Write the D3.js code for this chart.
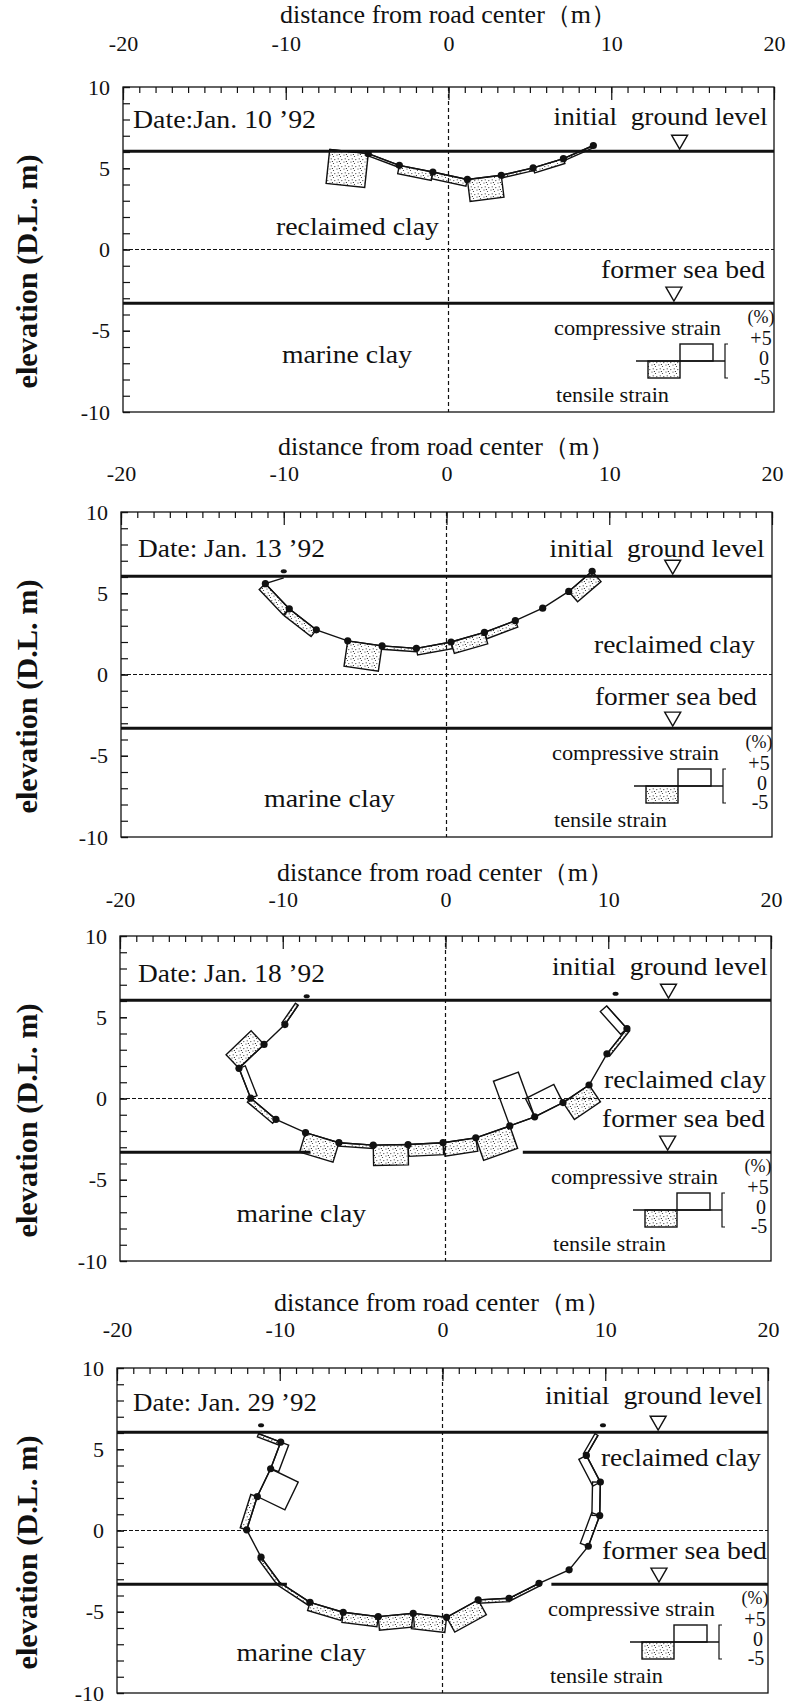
<!DOCTYPE html>
<html>
<head>
<meta charset="utf-8">
<script src="https://cdn.jsdelivr.net/npm/d3@7/dist/d3.min.js"></script>
<style>
body { margin: 0; background: #fff; }
svg { display: block; font-family: "Liberation Serif", "DejaVu Serif", serif; }
text { fill: #111; white-space: pre; }
</style>
</head>
<body>
<div class="container"></div>
<script>
const WIDTH = 789;
const HEIGHT = 1706;
const PW = 651;
const PH = 325;
const TOPS = [87, 512, 936, 1368];
const LEFTS = [123, 121, 120, 117];
const TITLE_GAP = [64, 57, 55, 57];
const TICK_GAP = [36, 31, 29, 31];

// axis ticks
const xTicks = [-20, -10, 0, 10, 20];
const yTicks = [10, 5, 0, -5, -10];

// levels (D.L. m)
const GROUND = 6.05;
const SEABED = -3.3;

const dates = ["Date:Jan. 10 \u201992", "Date: Jan. 13 \u201992", "Date: Jan. 18 \u201992", "Date: Jan. 29 \u201992"];

// Jan 10
const dist1 = [-7.3, -4.93, -3.02, -0.96, 1.16, 3.24, 5.2, 7.06, 8.9];
const elev1 = [6.15, 5.9, 5.18, 4.77, 4.31, 4.57, 5.02, 5.59, 6.4];
const strain1 = [-10, -0.6, -2.5, -2, -6.5, -0.8, -1.5, -0.6];
const bare1 = [0];
const marks1 = [];

// Jan 13
const dist2 = [-10.0, -11.13, -9.66, -8.0, -6.07, -3.96, -1.85, 0.28, 2.33, 4.23, 5.91, 7.51, 8.95];
const elev2 = [5.95, 5.59, 4.04, 2.75, 2.07, 1.76, 1.61, 2.0, 2.59, 3.31, 4.08, 5.11, 6.35];
const strain2 = [0, -2.5, -2.5, 0, -7.5, -1, -2, -3.5, -2, 0, 0, -4];
const bare2 = [0];
const marks2 = [[-10, 6.35]];

// Jan 18
const dist3 = [-9.05, -9.87, -11.15, -12.69, -11.97, -10.42, -8.6, -6.55, -4.44, -2.3, -0.15, 1.86, 3.95, 5.48, 7.22, 8.82, 9.92, 11.15, 9.9];
const elev3 = [5.74, 4.55, 3.33, 1.86, 0.02, -1.28, -2.1, -2.72, -2.87, -2.83, -2.72, -2.42, -1.69, -1.13, -0.25, 0.83, 2.75, 4.3, 5.7];
const strain3 = [-1, 0, -5.5, 2, -1.5, 0, -6, -1, -6, -3.5, -4, -7, 14, 6, -6, 0, -1, 2.5];
const bare3 = [0, 18];
const marks3 = [[-8.53, 6.3], [10.45, 6.45]];

// Jan 29
const dist4 = [-11.3, -9.94, -10.56, -11.38, -12.03, -11.15, -10.0, -8.14, -6.1, -3.95, -1.8, 0.25, 2.19, 4.09, 5.93, 7.78, 8.96, 9.66, 9.7, 8.84, 9.55];
const elev4 = [5.96, 5.44, 3.8, 2.09, 0.04, -1.64, -3.2, -4.42, -5.03, -5.3, -5.1, -5.34, -4.27, -4.17, -3.25, -2.42, -0.97, 0.92, 2.98, 4.62, 5.85];
const strain4 = [-1, 2.5, 9, -2, 0, -1, -1, -2.5, -3, -4, -4.5, -5, -1, -0.8, 0, 0, 2.5, 2.3, 2.5, 1];
const bare4 = [0, 6, 20];
const marks4 = [[-11.15, 6.47], [9.86, 6.47]];

// where the sea bed line is broken by the pipe
const seaGaps = [null, null, [-8.3, 4.75], [-9.56, 6.69]];
// level markers (x of the two triangles)
const levelMarkX = [[14.2, 13.85], [13.9, 13.9], [13.7, 13.65], [13.25, 13.3]];

const DIST = [dist1, dist2, dist3, dist4];
const ELEV = [elev1, elev2, elev3, elev4];
const STRAIN = [strain1, strain2, strain3, strain4];
const BARE = [bare1, bare2, bare3, bare4];
const MARKS = [marks1, marks2, marks3, marks4];

// label placement: [dx from left, dy from top, width]
const LABELS = [
	{date: [10, 41, 183], initial: [430.6, 38, 214], reclaimed: [153, 148, 163], former: [478, 191, 164], marine: [159, 276, 130]},
	{date: [17, 45, 187], initial: [428.6, 44.7, 215], reclaimed: [473, 141, 161], former: [474, 193, 162], marine: [143, 294.7, 131]},
	{date: [18, 45.5, 187], initial: [432, 39, 215.5], reclaimed: [484, 152, 162], former: [482, 190.7, 163], marine: [116.5, 285.7, 129.5]},
	{date: [16, 43, 184], initial: [428, 36, 217.5], reclaimed: [484, 98, 160], former: [485, 191, 165], marine: [119.5, 293, 129.5]}
];

const strainScale = d3.scaleLinear().domain([0, 5]).range([0, 17]);

var addText = function(g, str, x, y, size, width){
	var t = g.append("text")
		.attr("x", x)
		.attr("y", y)
		.attr("font-size", size)
		.text(str);
	if (width) t.attr("textLength", width).attr("lengthAdjust", "spacingAndGlyphs");
	return t;
};

var strainPath = function(d){
	var dx = d.p2[0] - d.p1[0], dy = d.p2[1] - d.p1[1];
	var len = Math.hypot(dx, dy);
	var ux = dx / len, uy = dy / len;
	var t = strainScale(Math.abs(d.s));
	// tensile on the outer side, compressive on the inner side
	var side = d.s < 0 ? 1 : -1;
	var nx = -uy * side * t, ny = ux * side * t;
	return "M" + d.p1[0] + "," + d.p1[1]
		+ "L" + d.p2[0] + "," + d.p2[1]
		+ "L" + (d.p2[0] + nx) + "," + (d.p2[1] + ny)
		+ "L" + (d.p1[0] + nx) + "," + (d.p1[1] + ny) + "Z";
};

var triangle = function(g, cx, yLine){
	g.append("path")
		.attr("d", "M" + (cx - 8) + "," + (yLine - 16) + "L" + (cx + 8) + "," + (yLine - 16) + "L" + cx + "," + (yLine - 2) + "Z")
		.attr("fill", "#fff")
		.attr("stroke", "#111")
		.attr("stroke-width", 1.4);
};

var fmt = function(d){ return d3.format("d")(d).replace("\u2212", "-"); };

var drawPanel = function(svg, i){
	var L = LEFTS[i], T = TOPS[i], R = L + PW, B = T + PH;
	var x = d3.scaleLinear().domain([-20, 20]).range([L, R]);
	var y = d3.scaleLinear().domain([-10, 10]).range([B, T]);
	var g = svg.append("g");

	// title
	addText(g, "distance from road center\uFF08m\uFF09", (L + R) / 2, T - TITLE_GAP[i], 25, 337)
		.attr("text-anchor", "middle");

	// y title
	g.append("text")
		.attr("transform", "translate(37," + (T + PH / 2 + 22) + ") rotate(-90)")
		.attr("text-anchor", "middle")
		.attr("font-size", 29)
		.attr("font-weight", "bold")
		.attr("textLength", 234)
		.attr("lengthAdjust", "spacingAndGlyphs")
		.text("elevation (D.L. m)");

	// reference lines
	g.append("line")
		.attr("x1", x(0)).attr("x2", x(0)).attr("y1", T).attr("y2", B)
		.attr("stroke", "#111").attr("stroke-width", 1.2).attr("stroke-dasharray", "4,3");
	g.append("line")
		.attr("x1", L).attr("x2", R).attr("y1", y(0)).attr("y2", y(0))
		.attr("stroke", "#111").attr("stroke-width", 1.2).attr("stroke-dasharray", "4,2");
	g.append("line")
		.attr("x1", L).attr("x2", R).attr("y1", y(GROUND)).attr("y2", y(GROUND))
		.attr("stroke", "#111").attr("stroke-width", 3);
	var gap = seaGaps[i];
	var seaSegs = gap ? [[-20, gap[0]], [gap[1], 20]] : [[-20, 20]];
	g.selectAll(".sea").data(seaSegs).join("line")
		.attr("x1", d => x(d[0])).attr("x2", d => x(d[1]))
		.attr("y1", y(SEABED)).attr("y2", y(SEABED))
		.attr("stroke", "#111").attr("stroke-width", 3);

	// frame
	g.append("rect")
		.attr("x", L).attr("y", T).attr("width", PW).attr("height", PH)
		.attr("fill", "none").attr("stroke", "#111").attr("stroke-width", 1.3);

	// axes
	var minorX = d3.axisTop(x).tickValues(d3.range(-20, 21, 1)).tickSize(-6).tickFormat("");
	var majorX = d3.axisTop(x).tickValues(xTicks).tickSize(-13).tickPadding(TICK_GAP[i]).tickFormat(fmt);
	var minorY = d3.axisLeft(y).tickValues(d3.range(-10, 11, 1)).tickSize(-7).tickFormat("");
	var majorY = d3.axisLeft(y).tickValues(yTicks).tickSize(-7).tickPadding(13).tickFormat(fmt);
	[[minorX, "translate(0," + T + ")"], [majorX, "translate(0," + T + ")"],
	 [minorY, "translate(" + L + ",0)"], [majorY, "translate(" + L + ",0)"]].forEach(function(a){
		var ag = g.append("g").attr("transform", a[1]).call(a[0]);
		ag.attr("font-family", null).attr("font-size", 22);
		ag.select(".domain").remove();
		ag.selectAll("line").attr("stroke", "#111").attr("stroke-width", 1.2);
		ag.selectAll("text").attr("fill", "#111");
	});

	// labels
	var lb = LABELS[i];
	addText(g, dates[i], L + lb.date[0], T + lb.date[1], 26, lb.date[2]);
	addText(g, "initial  ground level", L + lb.initial[0], T + lb.initial[1], 26, lb.initial[2]);
	addText(g, "reclaimed clay", L + lb.reclaimed[0], T + lb.reclaimed[1], 26, lb.reclaimed[2]);
	addText(g, "former sea bed", L + lb.former[0], T + lb.former[1], 26, lb.former[2]);
	addText(g, "marine clay", L + lb.marine[0], T + lb.marine[1], 26, lb.marine[2]);
	triangle(g, x(levelMarkX[i][0]), y(GROUND));
	triangle(g, x(levelMarkX[i][1]), y(SEABED));

	// strain legend
	var zy = B - 51;
	g.append("line").attr("x1", R - 138).attr("x2", R - 49).attr("y1", zy).attr("y2", zy)
		.attr("stroke", "#111").attr("stroke-width", 1.3);
	g.append("rect").attr("x", R - 126).attr("y", zy).attr("width", 32).attr("height", strainScale(5))
		.attr("fill", "url(#stipple)").attr("stroke", "#111").attr("stroke-width", 1.4);
	g.append("rect").attr("x", R - 94).attr("y", zy - strainScale(5)).attr("width", 33).attr("height", strainScale(5))
		.attr("fill", "none").attr("stroke", "#111").attr("stroke-width", 1.4);
	g.append("path")
		.attr("d", "M" + (R - 46) + "," + (zy - strainScale(5)) + "H" + (R - 49) + "V" + (zy + strainScale(5)) + "H" + (R - 46))
		.attr("fill", "none").attr("stroke", "#111").attr("stroke-width", 1.2);
	addText(g, "compressive strain", R - 220, B - 77, 21, 167);
	addText(g, "tensile strain", R - 218, B - 10, 21, 113);
	addText(g, "(%)", R - 13, B - 89, 18).attr("text-anchor", "middle");
	addText(g, "+5", R - 13, B - 67, 20).attr("text-anchor", "middle");
	addText(g, "0", R - 10, B - 47, 20).attr("text-anchor", "middle");
	addText(g, "-5", R - 12, B - 28, 20).attr("text-anchor", "middle");

	// pipe: strain boxes, line, points
	var pts = DIST[i].map((d, k) => [x(d), y(ELEV[i][k])]);
	var segs = d3.pairs(pts).map((p, k) => ({p1: p[0], p2: p[1], s: STRAIN[i][k]}));
	g.selectAll(".strain").data(segs.filter(d => d.s !== 0)).join("path")
		.attr("d", strainPath)
		.attr("fill", d => d.s < 0 ? "url(#stipple)" : "none")
		.attr("stroke", "#111")
		.attr("stroke-width", 1.4)
		.attr("stroke-linejoin", "miter");
	g.append("path")
		.attr("d", d3.line()(pts))
		.attr("fill", "none")
		.attr("stroke", "#111")
		.attr("stroke-width", 1.4);
	g.selectAll(".pt").data(pts.filter((p, k) => BARE[i].indexOf(k) < 0)).join("circle")
		.attr("cx", d => d[0]).attr("cy", d => d[1]).attr("r", 3.6)
		.attr("fill", "#111");
	g.selectAll(".mark").data(MARKS[i]).join("ellipse")
		.attr("cx", d => x(d[0])).attr("cy", d => y(d[1]))
		.attr("rx", 3).attr("ry", 2)
		.attr("fill", "#111");
};

var load = function(){
	var svg = d3.select(".container").append("svg")
		.attr("width", WIDTH)
		.attr("height", HEIGHT);
	svg.append("rect").attr("width", WIDTH).attr("height", HEIGHT).attr("fill", "#fff");

	var pat = svg.append("defs").append("pattern")
		.attr("id", "stipple")
		.attr("patternUnits", "userSpaceOnUse")
		.attr("width", 7).attr("height", 7);
	[[1, 1], [4.5, 2.5], [2.2, 4.8], [5.8, 5.6], [3.4, 0.4]].forEach(function(p){
		pat.append("circle").attr("cx", p[0]).attr("cy", p[1]).attr("r", 0.6).attr("fill", "#333");
	});

	for (var i = 0; i < 4; i++) drawPanel(svg, i);
};

window.onload = load;
</script>
</body>
</html>
